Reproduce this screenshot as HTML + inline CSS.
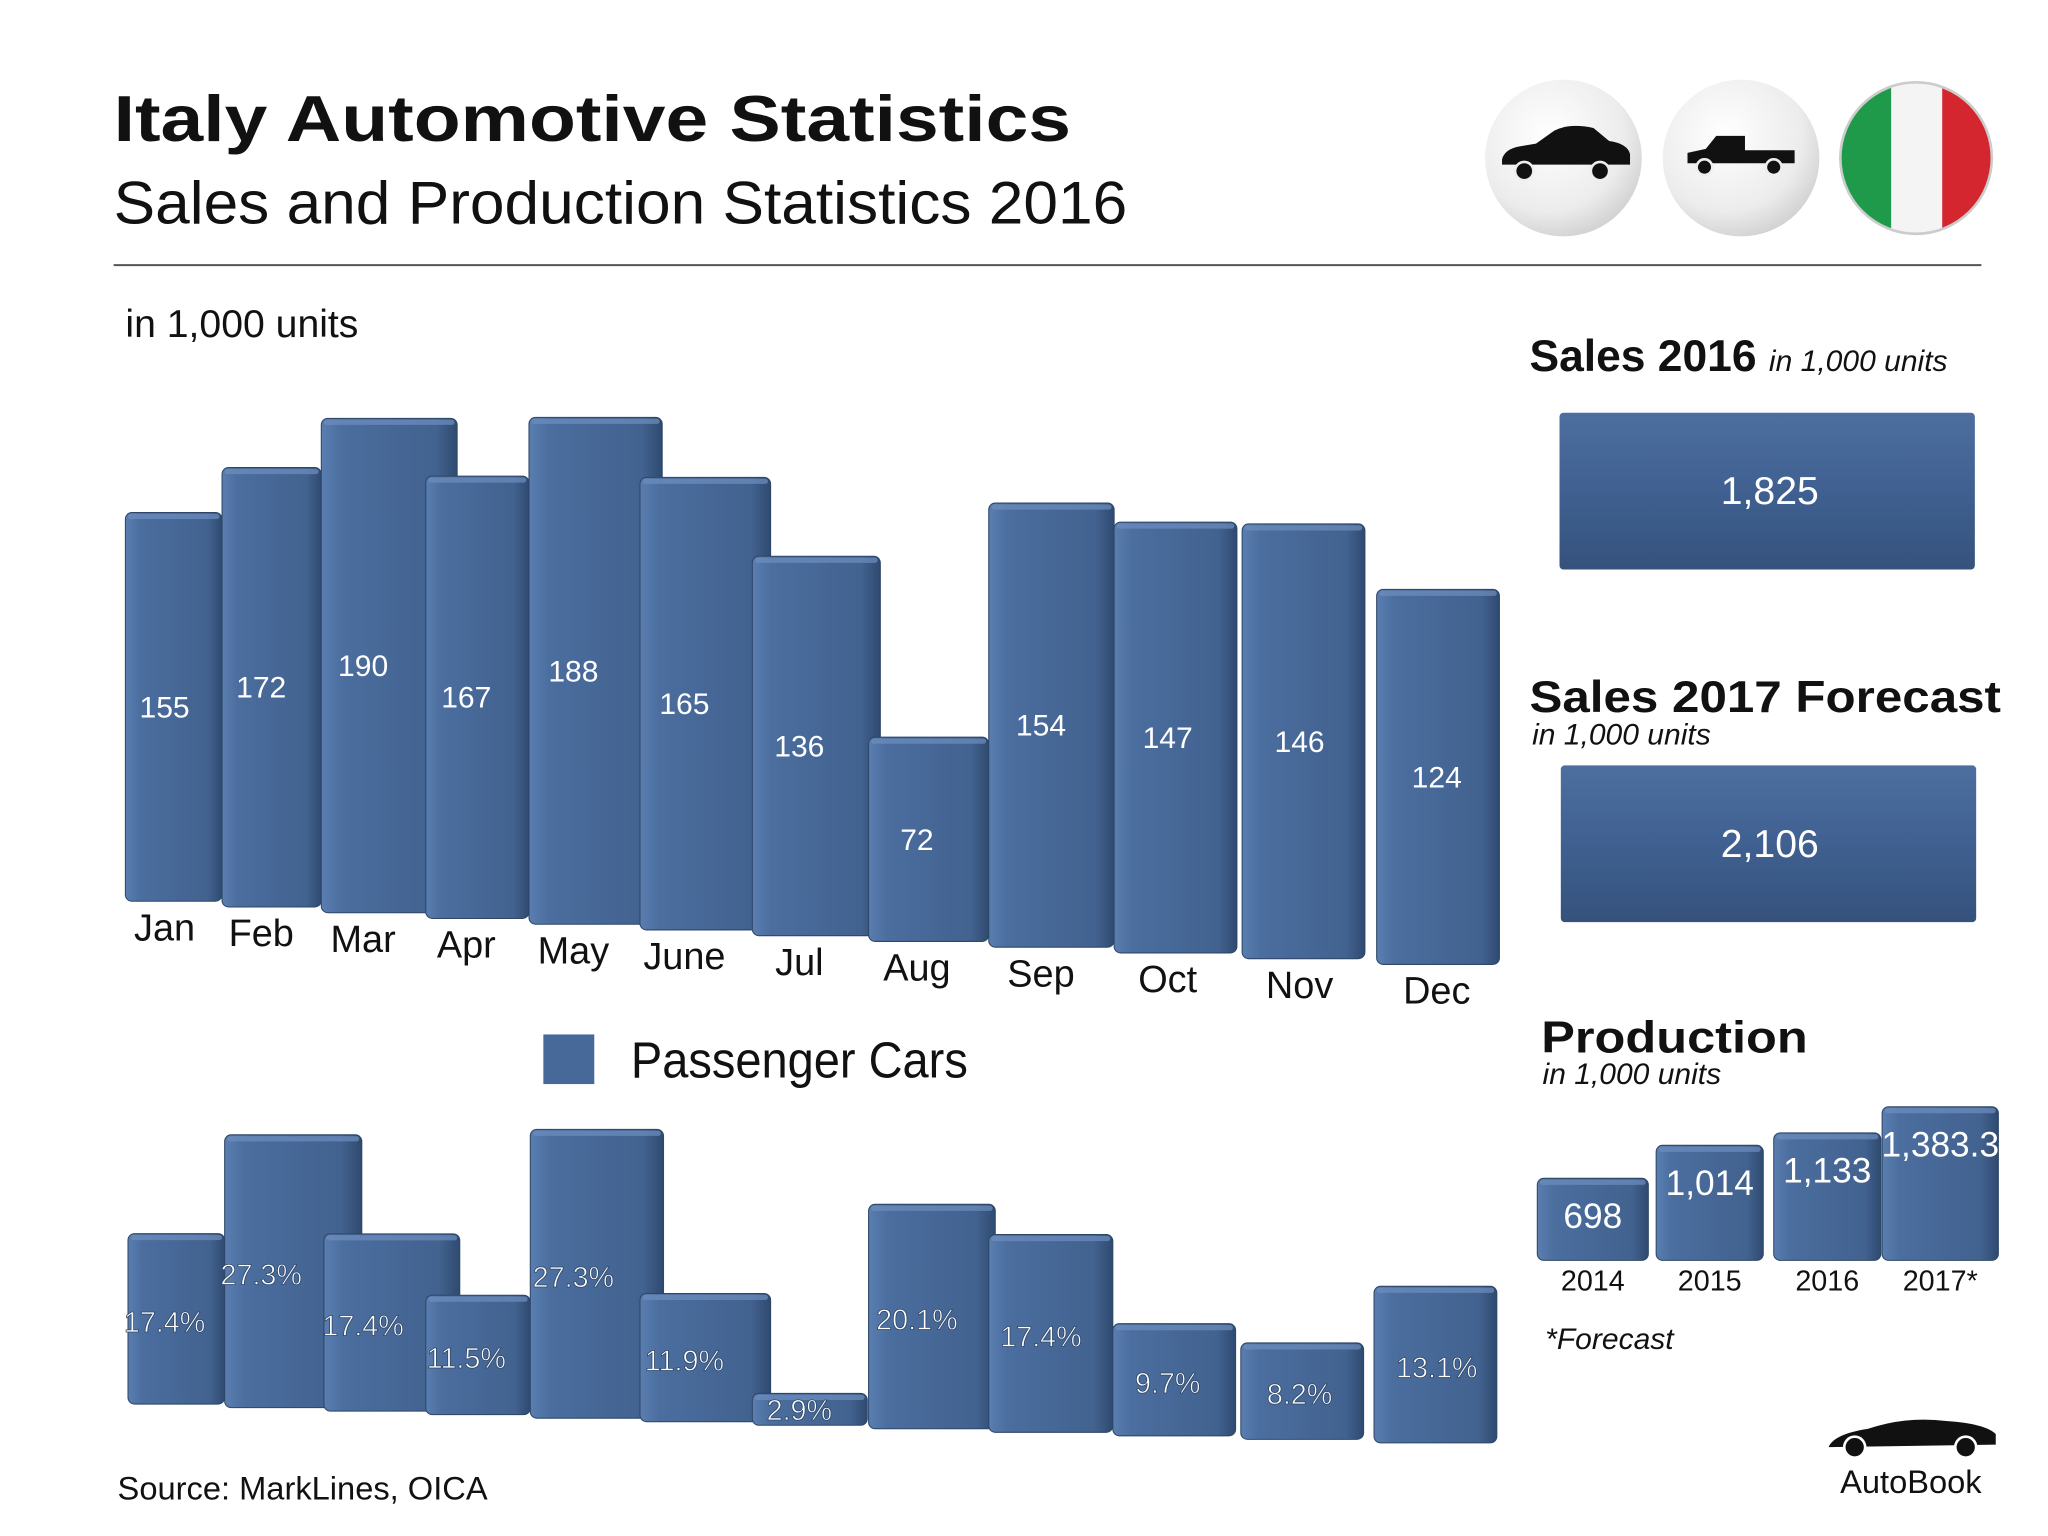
<!DOCTYPE html>
<html><head><meta charset="utf-8">
<style>
html,body{margin:0;padding:0;background:#fff;}
svg{display:block;}
text{font-family:"Liberation Sans","DejaVu Sans",sans-serif;}
</style></head>
<body>
<svg id="chart" width="2048" height="1536" viewBox="0 0 1568 1176" xmlns="http://www.w3.org/2000/svg">
<defs>
<linearGradient id="barg" x1="0" x2="1" y1="0" y2="0">
<stop offset="0" stop-color="#5a7eb0"/><stop offset="0.15" stop-color="#4b6e9f"/><stop offset="0.85" stop-color="#42628f"/><stop offset="1" stop-color="#2f4a70"/>
</linearGradient>
<linearGradient id="boxg" x1="0" x2="0" y1="0" y2="1">
<stop offset="0" stop-color="#4d6fa0"/><stop offset="0.5" stop-color="#3f6090"/><stop offset="1" stop-color="#35527c"/>
</linearGradient>
<radialGradient id="circg" cx="0.4" cy="0.35" r="0.7">
<stop offset="0" stop-color="#ffffff"/><stop offset="0.7" stop-color="#ececec"/><stop offset="1" stop-color="#cfcfcf"/>
</radialGradient>
</defs>
<text x="87" y="108" font-size="50" font-weight="bold" fill="#111" textLength="733" lengthAdjust="spacingAndGlyphs">Italy Automotive Statistics</text>
<text x="87" y="171" font-size="46" fill="#111" textLength="776" lengthAdjust="spacingAndGlyphs">Sales and Production Statistics 2016</text>
<line x1="87" y1="203" x2="1517" y2="203" stroke="#555" stroke-width="1.5"/>
<g>
<circle cx="1197" cy="121" r="60" fill="url(#circg)"/>
<path d="M1150 122 q2 -8 14 -10 l12 -2 l14 -10 q12 -6 30 -2 l12 10 q14 2 16 10 l0 8 l-98 0 z" fill="#111"/>
<circle cx="1167" cy="131" r="7" fill="#111" stroke="#eee" stroke-width="2"/><circle cx="1225" cy="131" r="7" fill="#111" stroke="#eee" stroke-width="2"/>
</g>
<g>
<circle cx="1333" cy="121" r="60" fill="url(#circg)"/>
<path d="M1292 125 l0 -8 l14 -3 l8 -10 l22 0 l0 11 l38 0 l0 10 z" fill="#111"/>
<circle cx="1305" cy="128" r="6" fill="#111" stroke="#eee" stroke-width="2"/><circle cx="1358" cy="128" r="6" fill="#111" stroke="#eee" stroke-width="2"/>
</g>
<g>
<clipPath id="fc"><circle cx="1467" cy="121" r="58"/></clipPath>
<g clip-path="url(#fc)"><rect x="1409" y="60" width="39" height="124" fill="#1f9a4a"/><rect x="1448" y="60" width="39" height="124" fill="#f4f4f4"/><rect x="1487" y="60" width="40" height="124" fill="#d3262e"/></g>
<circle cx="1467" cy="121" r="58" fill="none" stroke="#ccc" stroke-width="2"/>
</g>
<text x="96" y="258" font-size="30" fill="#111">in 1,000 units</text>
<g id="top"></g>
<g id="bottom"></g>
<g>
<rect x="416" y="792" width="39" height="38" fill="#47699a"/>
<text x="483" y="825" font-size="39" fill="#111" textLength="258" lengthAdjust="spacingAndGlyphs">Passenger Cars</text>
</g>
<text x="1171" y="284" font-size="34" font-weight="bold" fill="#111">Sales 2016 <tspan font-size="23" font-weight="normal" font-style="italic">in 1,000 units</tspan></text>
<rect x="1194" y="316" width="318" height="120" rx="3" fill="url(#boxg)"/>
<text x="1355" y="386" font-size="30" fill="#fff" text-anchor="middle">1,825</text>
<text x="1171" y="545" font-size="34" font-weight="bold" fill="#111" textLength="361" lengthAdjust="spacingAndGlyphs">Sales 2017 Forecast</text>
<text x="1173" y="570" font-size="23" font-style="italic" fill="#111">in 1,000 units</text>
<rect x="1195" y="586" width="318" height="120" rx="3" fill="url(#boxg)"/>
<text x="1355" y="656" font-size="30" fill="#fff" text-anchor="middle">2,106</text>
<text x="1180" y="806" font-size="34" font-weight="bold" fill="#111" textLength="204" lengthAdjust="spacingAndGlyphs">Production</text>
<text x="1181" y="830" font-size="23" font-style="italic" fill="#111">in 1,000 units</text>
<g id="prod"></g>
<text x="1183" y="1033" font-size="23" font-style="italic" fill="#111">*Forecast</text>
<text x="90" y="1148" font-size="25" fill="#111">Source:  MarkLines, OICA</text>
<g>
<path d="M1400 1108 q4 -10 30 -14 q30 -10 60 -6 q30 2 38 10 l0 8 z" fill="#111"/>
<circle cx="1420" cy="1108" r="8" fill="#111" stroke="#fff" stroke-width="2"/><circle cx="1505" cy="1108" r="8" fill="#111" stroke="#fff" stroke-width="2"/>
<text x="1463" y="1143" font-size="25" fill="#111" text-anchor="middle">AutoBook</text>
</g>
</svg>
<script>
const months=['Jan','Feb','Mar','Apr','May','June','Jul','Aug','Sep','Oct','Nov','Dec'];
const sales=[155,172,190,167,188,165,136,72,154,147,146,124];
const growth=[17.4,27.3,17.4,11.5,27.3,11.9,2.9,20.1,17.4,9.7,8.2,13.1];
const prodYears=['2014','2015','2016','2017*'];
const prodValues=[698,1014,1133,1383.3];
const prodLabels=['698','1,014','1,133','1,383.3'];
const NS='http://www.w3.org/2000/svg';
function mk(tag,attrs,parent){const e=document.createElementNS(NS,tag);for(const k in attrs)e.setAttribute(k,attrs[k]);parent.appendChild(e);return e;}
const topX=[[96,170],[170,246],[246,350],[326,405],[405,507],[490,590],[576,674],[665,757],[757,853],[853,947],[951,1045],[1054,1148]];
const botX=[[98,172],[172,277],[248,352],[326,406],[406,508],[490,590],[576,664],[665,762],[757,852],[852,946],[950,1044],[1052,1146]];
const labelX=[126,200,278,357,439,524,612,702,797,894,995,1100];
function topBase(i){return 690+i*4.4;}
function topScale(i){return 1.92+0.036*i;}
function botBase(i){return 1075+i*2.7;}
function botScale(i){return 7.5+0.15*i;}
function drawBar(g,x0,x1,top,bot){
  mk('rect',{x:x0,y:top,width:x1-x0,height:bot-top,rx:5,fill:'url(#barg)',stroke:'#2e4768','stroke-width':0.8},g);
  mk('rect',{x:x0+2,y:top+1,width:x1-x0-4,height:4,rx:2,fill:'#6d8fbf',opacity:0.7},g);
}
const gt=document.getElementById('top');
for(let i=0;i<sales.length;i++){
  const b=topBase(i),t=b-sales[i]*topScale(i);
  const g=mk('g',{},gt);
  
  
  drawBar(g,topX[i][0],topX[i][1],t,b);
  const tx=mk('text',{x:labelX[i],y:(t+b)/2+8,'font-size':23,fill:'#fff','text-anchor':'middle'},g);
  tx.textContent=sales[i];
  const ml=mk('text',{x:labelX[i],y:b+30,'font-size':29,fill:'#111','text-anchor':'middle'},gt);
  
  
  ml.textContent=months[i];
}
const gb=document.getElementById('bottom');
for(let i=0;i<growth.length;i++){
  const b=botBase(i),t=b-growth[i]*botScale(i);
  const g=mk('g',{},gb);
  
  
  drawBar(g,botX[i][0],botX[i][1],t,b);
}
for(let i=0;i<growth.length;i++){
  const b=botBase(i),t=b-growth[i]*botScale(i);
  const ty=growth[i]<5?b-4:(t+b)/2+10;
  const tx=mk('text',{x:labelX[i],y:ty,'font-size':22,fill:'#fff','text-anchor':'middle',stroke:'#2e4768','stroke-width':0.6},gb);
  
  
  tx.textContent=growth[i].toFixed(1)+'%';
}
const gp=document.getElementById('prod');
const prodX=[[1177,1262],[1268,1350],[1358,1440],[1441,1530]];
for(let i=0;i<prodValues.length;i++){
  const b=965,t=b-(7+0.08*prodValues[i]);
  const g=mk('g',{},gp);
  
  
  drawBar(g,prodX[i][0],prodX[i][1],t,b);
  const tx=mk('text',{x:(prodX[i][0]+prodX[i][1])/2,y:t+38,'font-size':27,fill:'#fff','text-anchor':'middle'},g);
  tx.textContent=prodLabels[i];
  const yl=mk('text',{x:(prodX[i][0]+prodX[i][1])/2,y:988,'font-size':22,fill:'#111','text-anchor':'middle'},gp);
  
  
  yl.textContent=prodYears[i];
}
</script>
</body></html>
